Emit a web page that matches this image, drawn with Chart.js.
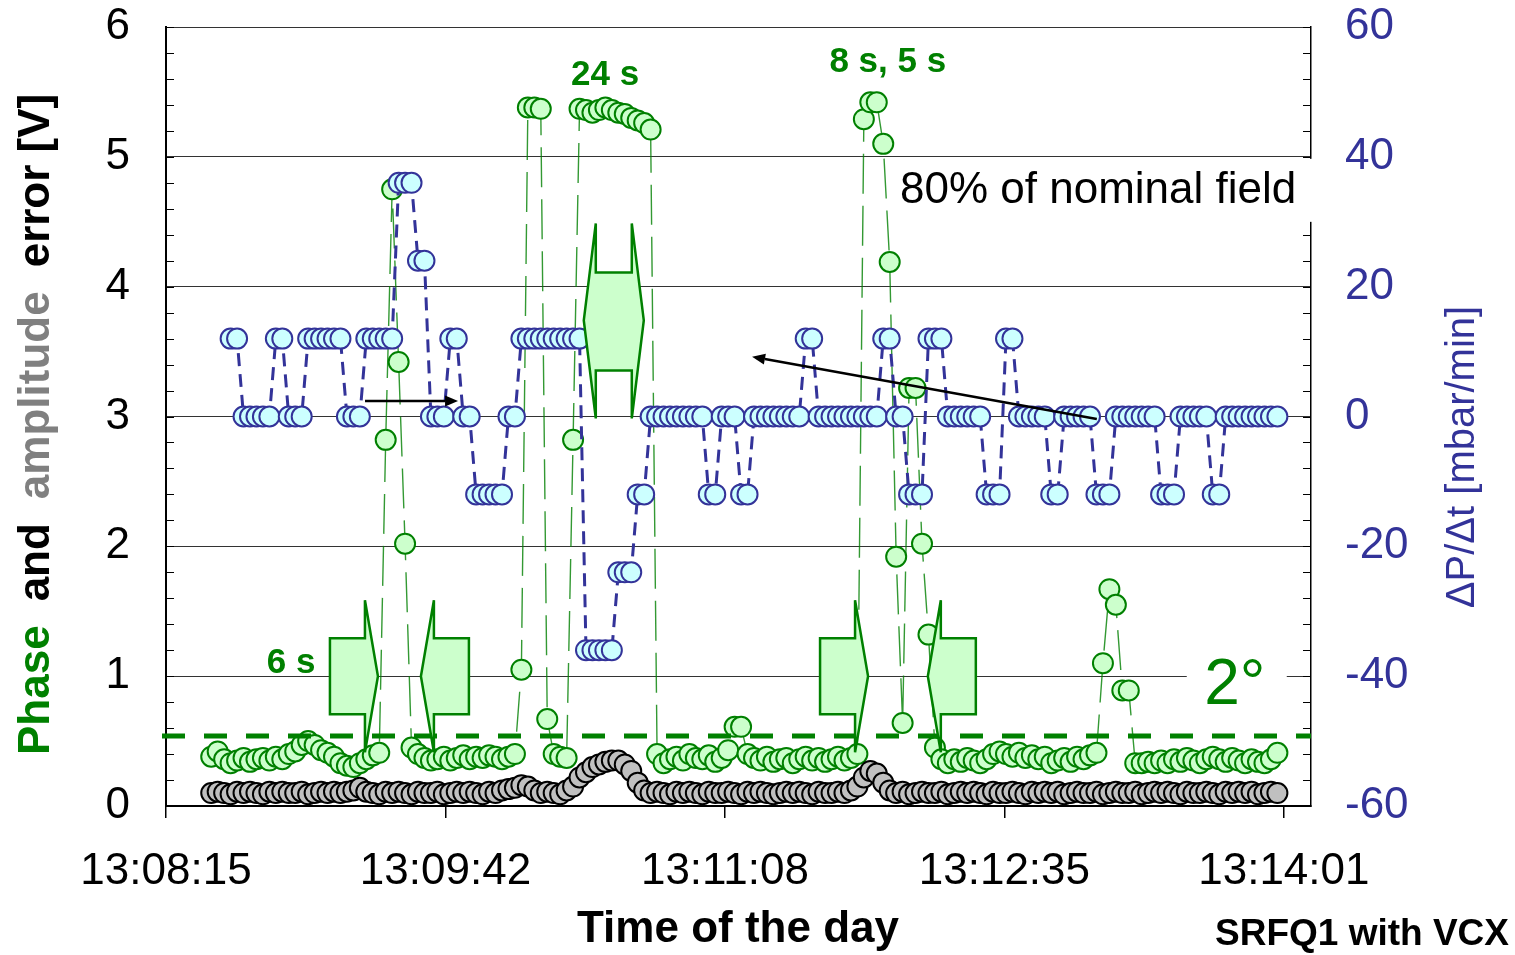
<!DOCTYPE html>
<html>
<head>
<meta charset="utf-8">
<script src="https://cdn.jsdelivr.net/npm/chart.js@4/dist/chart.umd.min.js"></script>
<style>
  html, body { margin: 0; padding: 0; background: #fff; }
  canvas { display: block; }
</style>
</head>
<body>
<canvas id="chart" width="1515" height="955"></canvas>
<script>
// Seconds after 13:08:15 for every logged sample
const elapsedSeconds = [
  14, 16, 18, 20, 22, 24, 26, 28, 30, 32,
  34, 36, 38, 40, 42, 44, 46, 48, 50, 52,
  54, 56, 58, 60, 62, 64, 66, 68, 70, 72,
  74, 76, 78, 80, 82, 84, 86, 88, 90, 92,
  94, 96, 98, 100, 102, 104, 106, 108, 110, 112,
  114, 116, 118, 120, 122, 124, 126, 128, 130, 132,
  134, 136, 138, 140, 142, 144, 146, 148, 150, 152,
  154, 156, 158, 160, 162, 164, 166, 168, 170, 172,
  174, 176, 178, 180, 182, 184, 186, 188, 190, 192,
  194, 196, 198, 200, 202, 204, 206, 208, 210, 212,
  214, 216, 218, 220, 222, 224, 226, 228, 230, 232,
  234, 236, 238, 240, 242, 244, 246, 248, 250, 252,
  254, 256, 258, 260, 262, 264, 266, 268, 270, 272,
  274, 276, 278, 280, 282, 284, 286, 288, 290, 292,
  294, 296, 298, 300, 302, 304, 306, 308, 310, 312,
  314, 316, 318, 320, 322, 324, 326, 328, 330, 332,
  334, 336, 338, 340, 342, 344
];

// Phase error [V]
const phaseError = [
  0.38, 0.42, 0.36, 0.33, 0.35, 0.37, 0.34, 0.36, 0.37, 0.35,
  0.38, 0.36, 0.40, 0.42, 0.47, 0.50, 0.47, 0.43, 0.41, 0.38,
  0.33, 0.31, 0.30, 0.33, 0.36, 0.39, 0.41, 2.82, 4.75, 3.42,
  2.02, 0.45, 0.40, 0.37, 0.35, 0.36, 0.38, 0.35, 0.37, 0.39,
  0.36, 0.38, 0.37, 0.39, 0.38, 0.36, 0.38, 0.40, 1.05, 5.38,
  5.38, 5.37, 0.67, 0.40, 0.38, 0.37, 2.82, 5.37, 5.36, 5.34,
  5.36, 5.38, 5.36, 5.34, 5.33, 5.30, 5.28, 5.26, 5.21, 0.40,
  0.33, 0.36, 0.38, 0.35, 0.40, 0.37, 0.36, 0.39, 0.34, 0.37,
  0.43, 0.61, 0.61, 0.40, 0.37, 0.35, 0.38, 0.34, 0.36, 0.37,
  0.33, 0.36, 0.38, 0.35, 0.37, 0.34, 0.36, 0.38, 0.35, 0.37,
  0.40, 5.29, 5.42, 5.42, 5.10, 4.19, 1.92, 0.64, 3.22, 3.22,
  2.02, 1.32, 0.45, 0.36, 0.33, 0.36, 0.34, 0.37, 0.35, 0.33,
  0.36, 0.40, 0.42, 0.40, 0.38, 0.41, 0.37, 0.39, 0.36, 0.38,
  0.33, 0.35, 0.37, 0.34, 0.38, 0.36, 0.39, 0.41, 1.10, 1.67,
  1.55, 0.89, 0.89, 0.33, 0.33, 0.34, 0.33, 0.35, 0.33, 0.36,
  0.34, 0.37, 0.35, 0.33, 0.36, 0.38, 0.36, 0.34, 0.37, 0.35,
  0.33, 0.36, 0.34, 0.33, 0.36, 0.41
];

// Amplitude error [V]
const amplitudeError = [
  0.10, 0.11, 0.10, 0.09, 0.11, 0.10, 0.11, 0.10, 0.09, 0.11,
  0.10, 0.11, 0.10, 0.10, 0.11, 0.09, 0.10, 0.11, 0.10, 0.11,
  0.10, 0.11, 0.12, 0.14, 0.11, 0.10, 0.09, 0.11, 0.10, 0.11,
  0.10, 0.09, 0.11, 0.10, 0.10, 0.11, 0.09, 0.10, 0.11, 0.10,
  0.11, 0.10, 0.09, 0.11, 0.10, 0.12, 0.13, 0.14, 0.16, 0.15,
  0.12, 0.10, 0.11, 0.10, 0.09, 0.12, 0.15, 0.22, 0.26, 0.30,
  0.32, 0.34, 0.35, 0.35, 0.32, 0.27, 0.18, 0.12, 0.10, 0.11,
  0.10, 0.09, 0.11, 0.10, 0.11, 0.10, 0.09, 0.11, 0.10, 0.10,
  0.11, 0.10, 0.09, 0.11, 0.10, 0.11, 0.10, 0.09, 0.10, 0.11,
  0.10, 0.11, 0.10, 0.09, 0.11, 0.10, 0.10, 0.11, 0.10, 0.12,
  0.15, 0.22, 0.27, 0.25, 0.18, 0.12, 0.10, 0.11, 0.09, 0.10,
  0.11, 0.10, 0.10, 0.11, 0.09, 0.10, 0.11, 0.10, 0.11, 0.10,
  0.09, 0.11, 0.10, 0.10, 0.11, 0.10, 0.09, 0.11, 0.10, 0.11,
  0.10, 0.11, 0.09, 0.10, 0.11, 0.10, 0.10, 0.11, 0.09, 0.10,
  0.11, 0.10, 0.10, 0.11, 0.09, 0.10, 0.11, 0.10, 0.11, 0.10,
  0.09, 0.11, 0.10, 0.10, 0.11, 0.10, 0.09, 0.11, 0.10, 0.11,
  0.10, 0.11, 0.09, 0.10, 0.11, 0.10
];

// Pressure rate ΔP/Δt [mbar/min]
const pressureRate = [
  null, null, null, 12, 12, 0, 0, 0, 0, 0,
  12, 12, 0, 0, 0, 12, 12, 12, 12, 12,
  12, 0, 0, 0, 12, 12, 12, 12, 12, 36,
  36, 36, 24, 24, 0, 0, 0, 12, 12, 0,
  0, -12, -12, -12, -12, -12, 0, 0, 12, 12,
  12, 12, 12, 12, 12, 12, 12, 12, -36, -36,
  -36, -36, -36, -24, -24, -24, -12, -12, 0, 0,
  0, 0, 0, 0, 0, 0, 0, -12, -12, 0,
  0, 0, -12, -12, 0, 0, 0, 0, 0, 0,
  0, 0, 12, 12, 0, 0, 0, 0, 0, 0,
  0, 0, 0, 0, 12, 12, 0, 0, -12, -12,
  -12, 12, 12, 12, 0, 0, 0, 0, 0, 0,
  -12, -12, -12, 12, 12, 0, 0, 0, 0, 0,
  -12, -12, 0, 0, 0, 0, 0, -12, -12, -12,
  0, 0, 0, 0, 0, 0, 0, -12, -12, -12,
  0, 0, 0, 0, 0, -12, -12, 0, 0, 0,
  0, 0, 0, 0, 0, 0
];

// Time axis ticks (seconds after 13:08:15) and their labels
const timeTickSeconds = [0, 86.5, 173, 259.5, 346];
const timeTickLabels = ['13:08:15', '13:09:42', '13:11:08', '13:12:35', '13:14:01'];

// Phase tolerance corresponding to 2°
const phaseLimit = 0.54;

const FONT = '"Liberation Sans", Arial, Helvetica, sans-serif';
const GREEN = '#008000';
const LIGHT_GREEN = '#ccffcc';
const NAVY = '#333399';

Chart.defaults.font.family = FONT;

const toPoints = values => elapsedSeconds.map((t, i) => ({ x: t, y: values[i] }));

// Annotation layer: minor ticks, 2° limit, arrows, labels and axis titles
const overlay = {
  id: 'overlay',
  beforeDatasetsDraw(chart) {
    const { ctx, chartArea: a, scales: { y, y2 } } = chart;
    ctx.save();
    ctx.strokeStyle = '#000';
    ctx.lineWidth = 1.2;
    ctx.beginPath();
    for (let i = 0; i <= 30; i++) {
      const yl = Math.round(y.getPixelForValue(i / 5)) + 0.5;
      ctx.moveTo(a.left, yl); ctx.lineTo(a.left + 8, yl);
      const yr = Math.round(y2.getPixelForValue(-60 + 4 * i)) + 0.5;
      ctx.moveTo(a.right - 8, yr); ctx.lineTo(a.right, yr);
    }
    ctx.stroke();
    ctx.restore();
  },
  afterDatasetsDraw(chart) {
    const { ctx, chartArea: a, scales: { x, y } } = chart;
    const X = t => x.getPixelForValue(t);
    const Y = v => y.getPixelForValue(v);
    ctx.save();

    // 2° phase limit
    ctx.strokeStyle = GREEN;
    ctx.lineWidth = 5;
    ctx.setLineDash([23, 19]);
    ctx.beginPath();
    ctx.moveTo(a.left - 4, Y(phaseLimit));
    ctx.lineTo(a.right, Y(phaseLimit));
    ctx.stroke();
    ctx.setLineDash([]);

    const shape = (pts) => {
      ctx.beginPath();
      pts.forEach(([px, py], i) => (i ? ctx.lineTo(px, py) : ctx.moveTo(px, py)));
      ctx.closePath();
      ctx.fillStyle = LIGHT_GREEN;
      ctx.fill();
      ctx.strokeStyle = GREEN;
      ctx.lineWidth = 2.5;
      ctx.stroke();
    };
    // horizontal block arrow, dir = +1 points right, -1 points left
    const blockArrow = (t, v, dir) => {
      const cx = X(t), cy = Y(v);
      const outline = [[-48, -38], [-13, -38], [-13, -76], [0, 0], [-13, 76], [-13, 38], [-48, 38]];
      shape(outline.map(([dx, dy]) => [cx + dir * dx, cy + dy]));
    };
    blockArrow(65.6, 1.0, 1);
    blockArrow(78.9, 1.0, -1);
    blockArrow(217.3, 1.0, 1);
    blockArrow(235.8, 1.0, -1);

    // vertical double arrow
    {
      const cx = X(138.6), cy = Y(3.74);
      const outline = [[-18, -97], [-18, -48], [18, -48], [18, -97], [30, 0], [18, 98],
                       [18, 50], [-18, 50], [-18, 98], [-30, 0]];
      shape(outline.map(([dx, dy]) => [cx + dx, cy + dy]));
    }

    // thin black arrows
    const arrow = (t0, v0, t1, v1) => {
      const x0 = X(t0), y0 = Y(v0), x1 = X(t1), y1 = Y(v1);
      const ang = Math.atan2(y1 - y0, x1 - x0);
      const c = Math.cos(ang), s = Math.sin(ang);
      const L = 13, W = 5.5;
      ctx.strokeStyle = '#000';
      ctx.lineWidth = 2.5;
      ctx.beginPath();
      ctx.moveTo(x0, y0);
      ctx.lineTo(x1 - L * c, y1 - L * s);
      ctx.stroke();
      ctx.fillStyle = '#000';
      ctx.beginPath();
      ctx.moveTo(x1, y1);
      ctx.lineTo(x1 - L * c + W * s, y1 - L * s - W * c);
      ctx.lineTo(x1 - L * c - W * s, y1 - L * s + W * c);
      ctx.closePath();
      ctx.fill();
    };
    arrow(61.6, 3.12, 90.4, 3.12);
    arrow(288.1, 2.98, 181.4, 3.46);

    // field level note on a white box
    {
      const tx = X(227.2), ty = Y(4.74);
      ctx.fillStyle = '#fff';
      ctx.fillRect(tx - 7, Y(5) + 2, a.right + 8 - (tx - 7), 63);
      ctx.font = `44px ${FONT}`;
      ctx.fillStyle = '#000';
      ctx.textAlign = 'left';
      ctx.textBaseline = 'middle';
      ctx.fillText('80% of nominal field', tx, ty);
    }
    // 2° label on a white box
    {
      const tx = X(330.8), ty = Y(0.92);
      ctx.fillStyle = '#fff';
      ctx.fillRect(tx - 48, ty - 38, 100, 74);
      ctx.font = `64px ${FONT}`;
      ctx.fillStyle = GREEN;
      ctx.textAlign = 'center';
      ctx.textBaseline = 'middle';
      ctx.fillText('2°', tx, ty);
    }
    // durations
    ctx.font = `bold 35px ${FONT}`;
    ctx.fillStyle = GREEN;
    ctx.textAlign = 'center';
    ctx.textBaseline = 'middle';
    ctx.fillText('6 s', X(38.7), Y(1.10));
    ctx.fillText('24 s', X(135.9), Y(5.63));
    ctx.fillText('8 s, 5 s', X(223.4), Y(5.73));

    ctx.restore();
  },
  afterDraw(chart) {
    const ctx = chart.ctx;
    ctx.save();
    // left axis title, reading upwards, words coloured by series
    const parts = [['Phase', GREEN], ['and', '#000'], ['amplitude', '#808080'], ['error [V]', '#000']];
    ctx.translate(37, 755);
    ctx.rotate(-Math.PI / 2);
    ctx.font = `bold 44px ${FONT}`;
    ctx.textAlign = 'left';
    ctx.textBaseline = 'middle';
    let pos = 0;
    parts.forEach(([txt, col]) => {
      ctx.fillStyle = col;
      ctx.fillText(txt, pos, 0);
      pos += ctx.measureText(txt).width + 24;
    });
    ctx.restore();

    ctx.save();
    ctx.translate(1463, 457);
    ctx.rotate(-Math.PI / 2);
    ctx.font = `40px ${FONT}`;
    ctx.fillStyle = NAVY;
    ctx.textAlign = 'center';
    ctx.textBaseline = 'middle';
    ctx.fillText('ΔP/Δt [mbar/min]', 0, 0);
    ctx.restore();

    ctx.save();
    ctx.font = `bold 44px ${FONT}`;
    ctx.fillStyle = '#000';
    ctx.textAlign = 'center';
    ctx.textBaseline = 'middle';
    ctx.fillText('Time of the day', 738, 930);
    ctx.font = `bold 37px ${FONT}`;
    ctx.textAlign = 'left';
    ctx.fillText('SRFQ1 with VCX', 1215, 935);
    ctx.restore();
  }
};

// keep the plot frame fixed: no extra room reserved for half tick labels
const fixVertical = width => scale => {
  scale.width = width;
  scale.paddingTop = 0;
  scale.paddingBottom = 0;
};

new Chart(document.getElementById('chart'), {
  type: 'line',
  data: {
    datasets: [
      {
        label: 'ΔP/Δt',
        yAxisID: 'y2',
        data: toPoints(pressureRate),
        borderColor: NAVY,
        borderWidth: 3,
        borderDash: [13, 8],
        pointRadius: 10,
        pointBorderWidth: 2,
        pointBackgroundColor: '#ccffff',
        pointBorderColor: NAVY,
        tension: 0,
        order: 0
      },
      {
        label: 'Amplitude',
        yAxisID: 'y',
        data: toPoints(amplitudeError),
        borderColor: '#000',
        borderWidth: 1,
        pointRadius: 10,
        pointBorderWidth: 2,
        pointBackgroundColor: '#c0c0c0',
        pointBorderColor: '#000',
        tension: 0,
        order: 1
      },
      {
        label: 'Phase',
        yAxisID: 'y',
        data: toPoints(phaseError),
        borderColor: 'rgba(0,128,0,0.8)',
        borderWidth: 1.4,
        borderDash: [40, 12],
        pointRadius: 10,
        pointBorderWidth: 2,
        pointBackgroundColor: LIGHT_GREEN,
        pointBorderColor: GREEN,
        tension: 0,
        order: 2
      }
    ]
  },
  options: {
    responsive: false,
    animation: false,
    devicePixelRatio: 1,
    layout: { padding: { top: 27, left: 0, right: 0, bottom: 0 } },
    plugins: { legend: { display: false }, tooltip: { enabled: false } },
    scales: {
      x: {
        type: 'linear',
        min: 0,
        max: 354.4,
        afterBuildTicks: scale => { scale.ticks = timeTickSeconds.map(v => ({ value: v })); },
        ticks: {
          callback: (value, index) => timeTickLabels[index],
          font: { size: 44 },
          color: '#000',
          padding: 27,
          maxRotation: 0,
          autoSkip: false
        },
        grid: { drawOnChartArea: false, drawTicks: true, tickLength: 12, color: '#000', lineWidth: 1.5 },
        border: { display: true, color: '#000', width: 2 },
        afterFit: scale => { scale.height = 149; scale.paddingLeft = 0; scale.paddingRight = 0; }
      },
      y: {
        position: 'left',
        min: 0,
        max: 6,
        ticks: { stepSize: 1, font: { size: 44 }, color: '#000', padding: 36 },
        grid: { color: '#333', lineWidth: 1, drawTicks: false },
        border: { display: true, color: '#000', width: 2 },
        afterFit: fixVertical(166)
      },
      y2: {
        position: 'right',
        min: -60,
        max: 60,
        ticks: { stepSize: 20, font: { size: 44 }, color: NAVY, padding: 34, callback: v => String(v) },
        grid: { display: false, drawTicks: false },
        border: { display: true, color: '#000', width: 1.5 },
        afterFit: fixVertical(204)
      }
    }
  },
  plugins: [overlay]
});
</script>
</body>
</html>
